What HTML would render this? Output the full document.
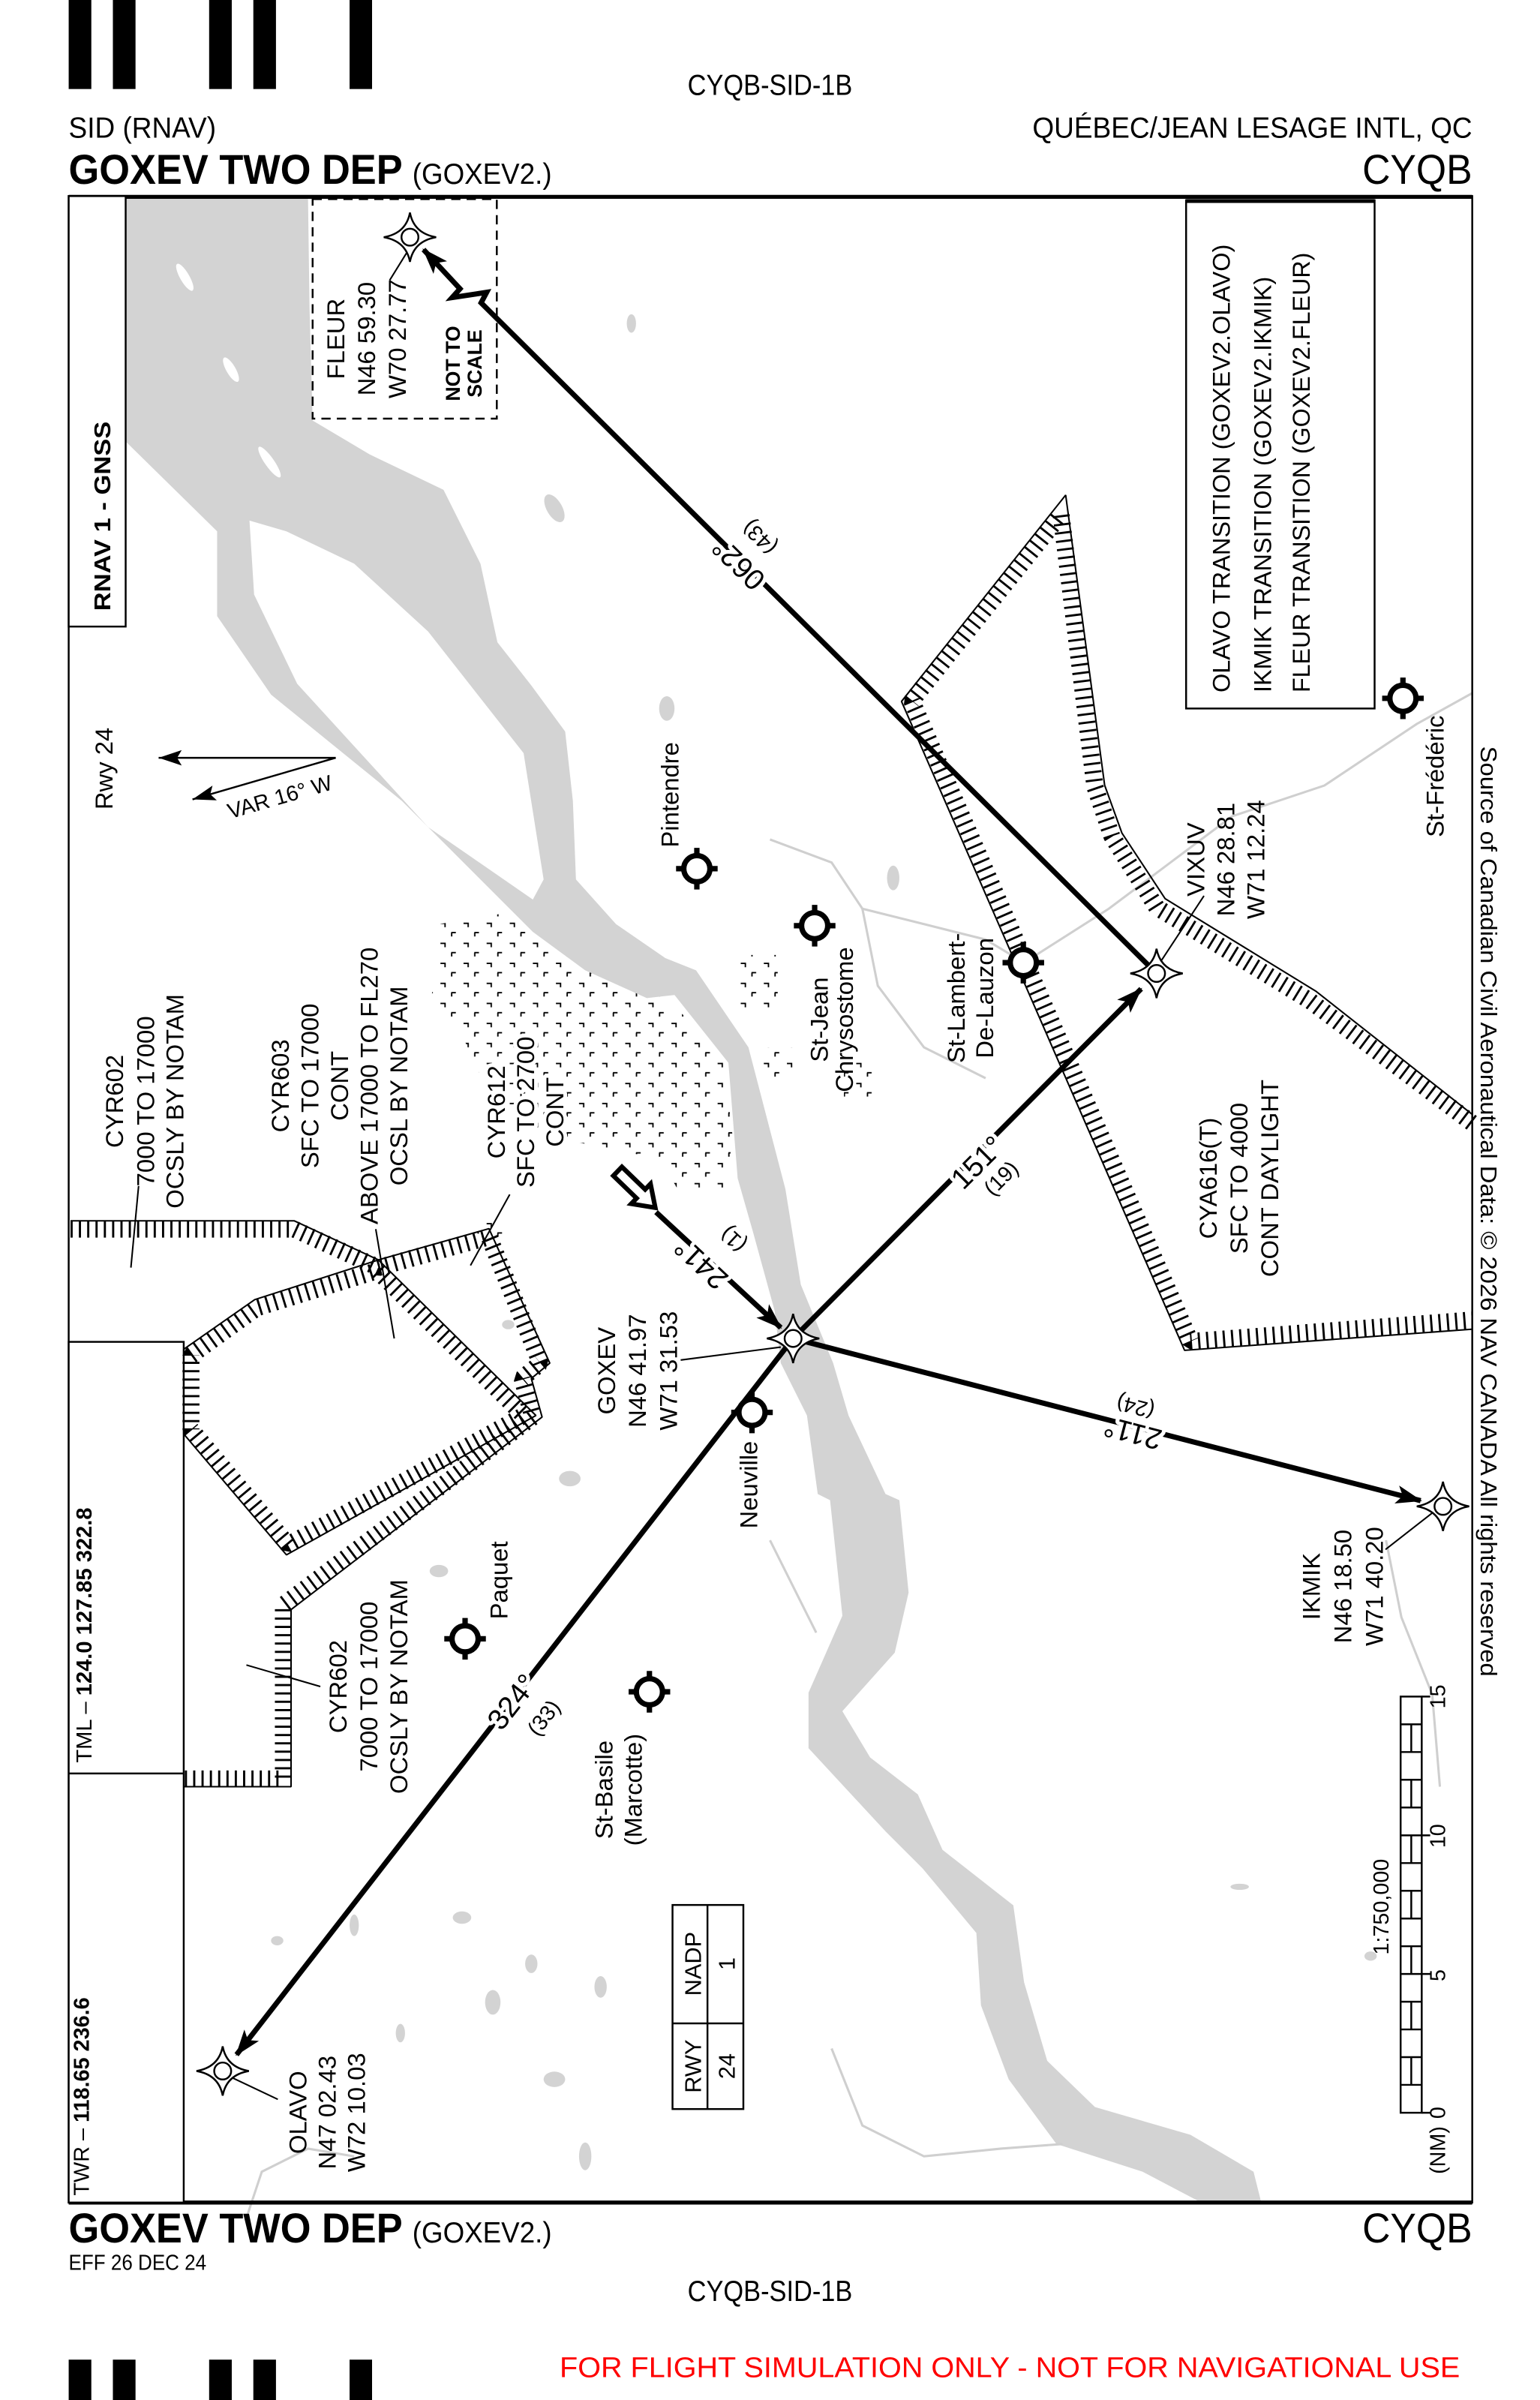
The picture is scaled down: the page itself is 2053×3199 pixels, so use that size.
<!DOCTYPE html>
<html><head><meta charset="utf-8"><style>
html,body{margin:0;padding:0;background:#fff;}
svg{display:block;}
text{font-family:"Liberation Sans",Arial,sans-serif;fill:#000;}
.b{font-weight:bold;}
.halo{paint-order:stroke;stroke:#fff;stroke-width:5px;stroke-linejoin:round;}
</style></head><body>
<svg width="2053" height="3199" viewBox="0 0 1000 1558.2" preserveAspectRatio="none" xmlns="http://www.w3.org/2000/svg">
<defs>
<marker id="ah" markerUnits="userSpaceOnUse" markerWidth="18" markerHeight="12" refX="16" refY="6" orient="auto"><path d="M0,0 L17,6 L0,12 L4,6Z" fill="#000"/></marker>
<marker id="ah2" markerUnits="userSpaceOnUse" markerWidth="16" markerHeight="10" refX="15" refY="5" orient="auto"><path d="M0,0 L15,5 L0,10 L3,5Z" fill="#000"/></marker>
<pattern id="city" width="15" height="13" patternUnits="userSpaceOnUse"><path d="M1,1.5h3v2.5 M8,7.5h3 M8.3,7.5v2.5" stroke="#000" stroke-width="0.9" fill="none"/></pattern>
<g id="apt"><circle r="8.5" fill="#fff" stroke="#000" stroke-width="3.5"/><path d="M0,-13.5v5M0,8.5v5M-13.5,0h5M8.5,0h5" stroke="#000" stroke-width="3.5"/></g>
<g id="fb"><path d="M0,-16 Q2.5,-2.5 17,0 Q2.5,2.5 0,16 Q-2.5,2.5 -17,0 Q-2.5,-2.5 0,-16Z" fill="#fff" stroke="#000" stroke-width="1.2"/><circle r="5.5" fill="#fff" stroke="#000" stroke-width="1.2"/></g>
</defs>

<rect x="44.6" y="0" width="14.7" height="57.8"/><rect x="73.3" y="0" width="14.7" height="57.8"/><rect x="135.8" y="0" width="14.7" height="57.8"/><rect x="164.5" y="0" width="14.7" height="57.8"/><rect x="227" y="0" width="14.6" height="57.8"/>

<text x="500" y="61.5" font-size="19" text-anchor="middle" textLength="107" lengthAdjust="spacingAndGlyphs">CYQB-SID-1B</text>
<text x="44.6" y="89.5" font-size="19" textLength="95.7" lengthAdjust="spacingAndGlyphs">SID (RNAV)</text>
<text x="956" y="89.5" font-size="19" text-anchor="end" textLength="285.6" lengthAdjust="spacingAndGlyphs">QUÉBEC/JEAN LESAGE INTL, QC</text>
<text x="44.6" y="119.3" font-size="27" class="b" textLength="216.8" lengthAdjust="spacingAndGlyphs">GOXEV TWO DEP</text>
<text x="267.8" y="119.3" font-size="19" textLength="90.5" lengthAdjust="spacingAndGlyphs">(GOXEV2.)</text>
<text x="956" y="119.3" font-size="27" text-anchor="end" textLength="71.4" lengthAdjust="spacingAndGlyphs">CYQB</text>

<polygon points="285,600 345,590 380,618 420,640 445,660 470,690 476,740 470,772 440,772 428,752 395,746 350,736 315,705 300,672 280,650" fill="url(#city)"/>
<rect x="480" y="620" width="25" height="35" fill="url(#city)"/>
<rect x="495" y="680" width="22" height="20" fill="url(#city)"/>
<rect x="548" y="690" width="20" height="22" fill="url(#city)"/>
<rect x="310" y="790" width="20" height="15" fill="url(#city)"/>

<g fill="#d3d3d3" stroke="none">
<path d="M82,128 L200,128 L201,200 L203,273 L240,295 L288,318 L312,366 L323,417 L345,445 L367,475 L372,520 L374,571 L400,600 L432,622 L452,630 L486,680 L510,772 L520,834 L541,885 L551,919 L575,970 L584,974 L590,1034 L581,1073 L547,1111 L565,1141 L596,1165 L612,1201 L658,1237 L665,1287 L680,1338 L711,1368 L773,1386 L814,1410 L819,1430 L780,1430 L742,1410 L686,1392 L655,1350 L637,1302 L634,1255 L599,1213 L575,1189 L550,1162 L525,1135 L525,1099 L547,1049 L539,974 L531,970 L524,919 L507,885 L503,851 L489,800 L479,765 L473,690 L438,646 L420,648 L380,630 L346,605 L261,520 L176,451 L141,400 L141,345 L82,287 Z"/>
<ellipse cx="433" cy="460" rx="5" ry="8"/><ellipse cx="360" cy="330" rx="5" ry="10" transform="rotate(-30 360 330)"/>
<ellipse cx="410" cy="210" rx="3" ry="6"/><ellipse cx="580" cy="570" rx="4" ry="8"/>
<ellipse cx="285" cy="1020" rx="6" ry="4"/><ellipse cx="370" cy="960" rx="7" ry="5"/><ellipse cx="330" cy="860" rx="4" ry="3"/>
<ellipse cx="300" cy="1245" rx="6" ry="4"/><ellipse cx="320" cy="1300" rx="5" ry="8"/><ellipse cx="360" cy="1350" rx="7" ry="5"/>
<ellipse cx="345" cy="1275" rx="4" ry="6"/><ellipse cx="260" cy="1320" rx="3" ry="6"/><ellipse cx="390" cy="1290" rx="4" ry="7"/>
<ellipse cx="380" cy="1400" rx="4" ry="9"/><ellipse cx="230" cy="1250" rx="3" ry="7"/><ellipse cx="180" cy="1260" rx="4" ry="3"/>
<ellipse cx="890" cy="1270" rx="4" ry="3"/><ellipse cx="805" cy="1225" rx="6" ry="2"/>
</g>
<polygon points="162,338 186,345 230,366 278,410 340,489 353,571 346,584 278,537 193,444 165,386" fill="#fff"/>
<g fill="#fff"><ellipse cx="120" cy="180" rx="3" ry="10" transform="rotate(-30 120 180)"/><ellipse cx="150" cy="240" rx="3" ry="9" transform="rotate(-30 150 240)"/><ellipse cx="175" cy="300" rx="3" ry="12" transform="rotate(-35 175 300)"/></g>
<g fill="none" stroke="#cfcfcf" stroke-width="1.5">
<path d="M500,545 L540,560 L560,590 L600,600 L640,610 L665,625 L720,590 L760,560 L800,530 L860,510 L920,470 L956,450"/>
<path d="M560,590 L570,640 L600,680 L640,700"/>
<path d="M900,1000 L910,1050 L930,1100 L935,1160"/>
<path d="M540,1330 L560,1380 L600,1400 L650,1395 L690,1392"/>
<path d="M500,1000 L520,1040 L530,1060"/>
<path d="M160,1440 L170,1410 L200,1395 L230,1400"/>
</g>

<rect x="44.6" y="127.3" width="911.4" height="1302.7" fill="none" stroke="#000" stroke-width="1.2"/>
<line x1="44.6" y1="127.8" x2="956" y2="127.8" stroke="#000" stroke-width="2.6"/>
<line x1="44.6" y1="1430" x2="956" y2="1430" stroke="#000" stroke-width="2.6"/>
<rect x="44.6" y="127.3" width="37" height="279.5" fill="#fff" stroke="#000" stroke-width="1.2"/>
<rect x="44.6" y="871.2" width="74.7" height="558.8" fill="#fff" stroke="#000" stroke-width="1.2"/>
<line x1="44.6" y1="1151.4" x2="119.3" y2="1151.4" stroke="#000" stroke-width="1.2"/>

<g fill="none" stroke="#000" stroke-linejoin="bevel">
<polyline points="45.8,792.6 191,792.6 245.7,818 317.5,797.7 357,885 345,895 352,920 189,1045 189,1160 119.3,1160" stroke-width="1"/>
<polyline points="45.8,798 191,798 245.7,823 317.5,803 351,885 339,895 346,920 184,1042 184,1155 119.3,1155" stroke-width="11" stroke-dasharray="1.4 4"/>
<polygon points="119.3,876 165.4,843.8 245.7,818 348,919 186,1009.5 119.3,931" stroke-width="1"/>
<polygon points="124,880 167,849 245,825 340,919 187,1003 124,928" stroke-width="11" stroke-dasharray="1.4 4"/>
<polyline points="955.7,723.3 854.7,643.7 756.6,583.5 728.5,540.8 717.3,509.8 692,321.4 585.4,455.4 769.2,876.7 955.7,863" stroke-width="1"/>
<polyline points="955.7,729 851,650 751,589 722,543 711,511 689,334 592,455 773,871 955.7,857" stroke-width="11" stroke-dasharray="1.4 4"/>
</g>

<rect x="203" y="129.3" width="119.6" height="142.5" fill="#fff" stroke="#000" stroke-width="1.2" stroke-dasharray="6 4"/>

<rect x="770.2" y="130" width="122.4" height="330" fill="#fff" stroke="#000" stroke-width="1.2"/>
<line x1="770.2" y1="130.5" x2="892.6" y2="130.5" stroke="#000" stroke-width="2.5"/>
<g font-size="16">
<text transform="translate(798.6,449.6) rotate(-90)" textLength="291" lengthAdjust="spacingAndGlyphs">OLAVO TRANSITION (GOXEV2.OLAVO)</text>
<text transform="translate(825.3,449.6) rotate(-90)" textLength="270" lengthAdjust="spacingAndGlyphs">IKMIK TRANSITION (GOXEV2.IKMIK)</text>
<text transform="translate(850.5,449.6) rotate(-90)" textLength="285.6" lengthAdjust="spacingAndGlyphs">FLEUR TRANSITION (GOXEV2.FLEUR)</text>
</g>

<g stroke="#000" stroke-width="1" fill="none">
<line x1="266" y1="161" x2="253" y2="182"/>
<line x1="753.7" y1="624.3" x2="781.8" y2="581.6"/>
<line x1="442" y1="883" x2="507" y2="874.6"/>
<line x1="899.7" y1="1006" x2="930.4" y2="982"/>
<line x1="150.9" y1="1349" x2="180.4" y2="1363"/>
<line x1="90" y1="770" x2="85" y2="823"/>
<line x1="244" y1="798" x2="256" y2="869"/>
<line x1="331" y1="775.5" x2="305.5" y2="821.6"/>
<line x1="160" y1="1081" x2="208" y2="1095"/>
</g>

<g stroke="#000" stroke-width="3.4" fill="none" stroke-linejoin="miter">
<line x1="515" y1="869" x2="741" y2="642" marker-end="url(#ah)"/>
<line x1="515" y1="869" x2="922.5" y2="974.3" marker-end="url(#ah)"/>
<line x1="515" y1="869" x2="153.6" y2="1334" marker-end="url(#ah)"/>
<polyline points="751,632 312.4,196.6 316,189.8 293.6,193.2 298.7,187.5 275,162" marker-end="url(#ah)"/>
<line x1="426" y1="787" x2="507" y2="862" marker-end="url(#ah)"/>
</g>
<polygon points="-18,-4 3,-4 3,-9 16,0 3,9 3,4 -18,4" transform="translate(414,773) rotate(44)" fill="#fff" stroke="#000" stroke-width="3" stroke-linejoin="miter"/>

<line x1="218" y1="492" x2="103" y2="492" stroke="#000" stroke-width="1.2" marker-end="url(#ah2)"/>
<line x1="218" y1="492" x2="125" y2="519" stroke="#000" stroke-width="1.2" marker-end="url(#ah2)"/>
<text transform="translate(73,499) rotate(-90)" font-size="16" text-anchor="middle">Rwy 24</text>
<text transform="translate(183,522) rotate(-16)" font-size="14" text-anchor="middle">VAR 16° W</text>

<use href="#fb" x="266.2" y="154"/>
<use href="#fb" x="751" y="632"/>
<use href="#fb" x="515" y="869"/>
<use href="#fb" x="937" y="978"/>
<use href="#fb" x="144.6" y="1344.6"/>
<use href="#apt" x="452.5" y="564"/>
<use href="#apt" x="529" y="601"/>
<use href="#apt" x="664.5" y="625"/>
<use href="#apt" x="911" y="453.4"/>
<use href="#apt" x="488.3" y="917"/>
<use href="#apt" x="302" y="1064"/>
<use href="#apt" x="421.7" y="1098.4"/>

<g class="halo" text-anchor="middle" dominant-baseline="central">
<text transform="translate(479.8,365.8) rotate(224.6)" font-size="19">062°</text>
<text transform="translate(493.5,348.7) rotate(224.6)" font-size="14">(43)</text>
<text transform="translate(635,755) rotate(-45)" font-size="19">151°</text>
<text transform="translate(650.3,765.2) rotate(-45)" font-size="14">(19)</text>
<text transform="translate(735.7,930) rotate(194.6)" font-size="19">211°</text>
<text transform="translate(737.4,913) rotate(194.6)" font-size="14">(24)</text>
<text transform="translate(332.9,1105.2) rotate(-52)" font-size="19">324°</text>
<text transform="translate(353.4,1115.5) rotate(-52)" font-size="14">(33)</text>
<text transform="translate(455.5,820) rotate(223)" font-size="19">241°</text>
<text transform="translate(476.4,804.5) rotate(223)" font-size="14">(1)</text>
</g>

<g font-size="16" text-anchor="middle">
<text transform="translate(223.5,220) rotate(-90)"><tspan x="0" dy="0">FLEUR</tspan><tspan x="0" dy="20">N46 59.30</tspan><tspan x="0" dy="20">W70 27.77</tspan></text>
<text transform="translate(298.7,236) rotate(-90)" font-size="13" class="b"><tspan x="0" dy="0">NOT TO</tspan><tspan x="0" dy="14">SCALE</tspan></text>
<text transform="translate(440.5,516) rotate(-90)">Pintendre</text>
<text transform="translate(537.5,662) rotate(-90)"><tspan x="0" dy="0">St-Jean</tspan><tspan x="0" dy="16.4">Chrysostome</tspan></text>
<text transform="translate(626.3,648) rotate(-90)"><tspan x="0" dy="0">St-Lambert-</tspan><tspan x="0" dy="18.7">De-Lauzon</tspan></text>
<text transform="translate(782,558) rotate(-90)"><tspan x="0" dy="0">VIXUV</tspan><tspan x="0" dy="19.5">N46 28.81</tspan><tspan x="0" dy="19.5">W71 12.24</tspan></text>
<text transform="translate(937.5,504) rotate(-90)">St-Frédéric</text>
<text transform="translate(790,765) rotate(-90)"><tspan x="0" dy="0">CYA616(T)</tspan><tspan x="0" dy="20">SFC TO 4000</tspan><tspan x="0" dy="20">CONT DAYLIGHT</tspan></text>
<text transform="translate(80,715) rotate(-90)"><tspan x="0" dy="0">CYR602</tspan><tspan x="0" dy="20">7000 TO 17000</tspan><tspan x="0" dy="19">OCSLY BY NOTAM</tspan></text>
<text transform="translate(187.6,705) rotate(-90)"><tspan x="0" dy="0">CYR603</tspan><tspan x="0" dy="19.2">SFC TO 17000</tspan><tspan x="0" dy="19.2">CONT</tspan><tspan x="0" dy="19.2">ABOVE 17000 TO FL270</tspan><tspan x="0" dy="19.2">OCSL BY NOTAM</tspan></text>
<text transform="translate(327.7,722) rotate(-90)" class="halo"><tspan x="0" dy="0">CYR612</tspan><tspan x="0" dy="19">SFC TO 2700</tspan><tspan x="0" dy="19">CONT</tspan></text>
<text transform="translate(399.5,890) rotate(-90)"><tspan x="0" dy="0">GOXEV</tspan><tspan x="0" dy="20">N46 41.97</tspan><tspan x="0" dy="20">W71 31.53</tspan></text>
<text transform="translate(491.7,964) rotate(-90)">Neuville</text>
<text transform="translate(329.5,1026) rotate(-90)">Paquet</text>
<text transform="translate(225,1095) rotate(-90)"><tspan x="0" dy="0">CYR602</tspan><tspan x="0" dy="20">7000 TO 17000</tspan><tspan x="0" dy="19.5">OCSLY BY NOTAM</tspan></text>
<text transform="translate(397.8,1162) rotate(-90)"><tspan x="0" dy="0">St-Basile</tspan><tspan x="0" dy="19">(Marcotte)</tspan></text>
<text transform="translate(199,1371.5) rotate(-90)"><tspan x="0" dy="0">OLAVO</tspan><tspan x="0" dy="19">N47 02.43</tspan><tspan x="0" dy="19">W72 10.03</tspan></text>
<text transform="translate(857,1030) rotate(-90)"><tspan x="0" dy="0">IKMIK</tspan><tspan x="0" dy="20.5">N46 18.50</tspan><tspan x="0" dy="20.5">W71 40.20</tspan></text>
</g>

<text transform="translate(71.5,396.6) rotate(-90)" font-size="15" class="b" textLength="123" lengthAdjust="spacingAndGlyphs">RNAV 1 - GNSS</text>
<text transform="translate(59.5,1144.5) rotate(-90)" font-size="14" textLength="165.7" lengthAdjust="spacingAndGlyphs">TML – <tspan class="b">124.0  127.85  322.8</tspan></text>
<text transform="translate(57.6,1425.5) rotate(-90)" font-size="14" textLength="128.7" lengthAdjust="spacingAndGlyphs">TWR – <tspan class="b">118.65  236.6</tspan></text>

<rect x="436.7" y="1236.8" width="46" height="132.5" fill="#fff" stroke="#000" stroke-width="1.2"/>
<line x1="459.4" y1="1236.8" x2="459.4" y2="1369.3" stroke="#000" stroke-width="1.2"/>
<line x1="436.7" y1="1313.7" x2="482.7" y2="1313.7" stroke="#000" stroke-width="1.2"/>
<g font-size="15" text-anchor="middle">
<text transform="translate(455.3,1341.5) rotate(-90)">RWY</text>
<text transform="translate(477,1341.5) rotate(-90)">24</text>
<text transform="translate(455.3,1275) rotate(-90)">NADP</text>
<text transform="translate(477,1275) rotate(-90)">1</text>
</g>

<g stroke="#000" stroke-width="1.2" fill="none">
<rect x="909.5" y="1101.5" width="13.7" height="270.2" fill="#fff"/>
<path d="M909.5,1119.5h13.7M909.5,1137.5h13.7M909.5,1155.5h13.7M909.5,1173.5h13.7M909.5,1191.6h13.7M909.5,1209.6h13.7M909.5,1227.6h13.7M909.5,1245.6h13.7M909.5,1263.6h13.7M909.5,1281.6h13.7M909.5,1299.6h13.7M909.5,1317.6h13.7M909.5,1335.6h13.7M909.5,1353.6h13.7"/>
<path d="M916.4,1119.5v18M916.4,1155.5v18M916.4,1191.6v18M916.4,1227.6v18M916.4,1263.6v18M916.4,1299.6v18M916.4,1335.6v18"/>
<path d="M923.2,1101.5h5.5M923.2,1191.6h5.5M923.2,1281.6h5.5M923.2,1371.7h5.5"/>
</g>
<g font-size="14" text-anchor="middle">
<text transform="translate(901.6,1238) rotate(-90)">1:750,000</text>
<text transform="translate(938.5,1371.7) rotate(-90)">0</text>
<text transform="translate(938.5,1282.5) rotate(-90)">5</text>
<text transform="translate(938.5,1192) rotate(-90)">10</text>
<text transform="translate(938.5,1101.5) rotate(-90)">15</text>
<text transform="translate(938.5,1396) rotate(-90)">(NM)</text>
</g>

<text transform="translate(961.5,484.5) rotate(90)" font-size="15" textLength="604" lengthAdjust="spacingAndGlyphs">Source of Canadian Civil Aeronautical Data: © 2026 NAV CANADA All rights reserved</text>

<text x="44.6" y="1456" font-size="27" class="b" textLength="216.8" lengthAdjust="spacingAndGlyphs">GOXEV TWO DEP</text>
<text x="267.8" y="1456" font-size="19" textLength="90.5" lengthAdjust="spacingAndGlyphs">(GOXEV2.)</text>
<text x="956" y="1456" font-size="27" text-anchor="end" textLength="71.4" lengthAdjust="spacingAndGlyphs">CYQB</text>
<text x="44.6" y="1473.7" font-size="14" textLength="89.4" lengthAdjust="spacingAndGlyphs">EFF 26 DEC 24</text>
<text x="500" y="1494" font-size="19" text-anchor="middle" textLength="107" lengthAdjust="spacingAndGlyphs">CYQB-SID-1B</text>
<text x="363.4" y="1543.3" font-size="18.5" style="fill:#ff0000" textLength="584.6" lengthAdjust="spacingAndGlyphs">FOR FLIGHT SIMULATION ONLY - NOT FOR NAVIGATIONAL USE</text>
<rect x="44.6" y="1532" width="14.7" height="26.2"/><rect x="73.3" y="1532" width="14.7" height="26.2"/><rect x="135.8" y="1532" width="14.7" height="26.2"/><rect x="164.5" y="1532" width="14.7" height="26.2"/><rect x="227" y="1532" width="14.6" height="26.2"/>
</svg>
</body></html>
